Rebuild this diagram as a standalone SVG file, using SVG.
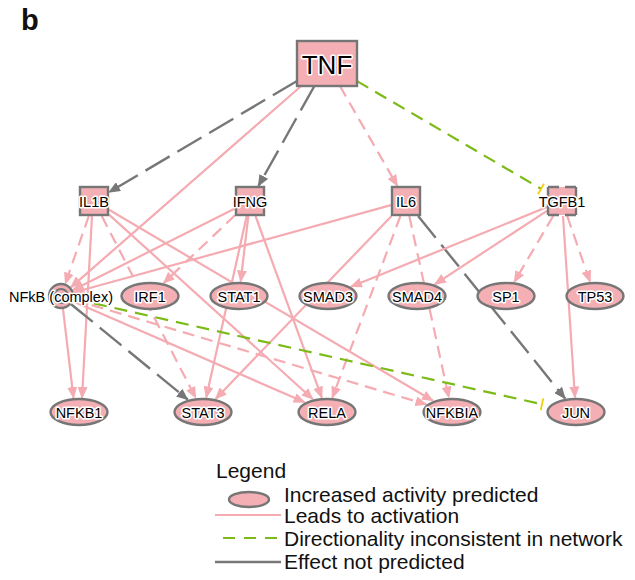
<svg xmlns="http://www.w3.org/2000/svg" width="635" height="580" viewBox="0 0 635 580">
<style>
.nd{fill:#F4AFB4;stroke:#767676;stroke-width:2.4}
.lbl{font-family:"Liberation Sans",Arial,sans-serif;font-size:14.5px;text-anchor:middle;fill:#000;stroke:#fff;stroke-width:3;stroke-linejoin:round;paint-order:stroke}
.pk{stroke:#F4ABB1;stroke-width:2.2;fill:none;marker-end:url(#ap)}
.ds{stroke-dasharray:12 7}
.gy{stroke:#777;stroke-width:2.4;fill:none;stroke-dasharray:28 9;marker-end:url(#ag)}
.gr{stroke:#7CBA18;stroke-width:2.2;fill:none;stroke-dasharray:13 8}
.tb{stroke:#F2CF0A;stroke-width:1.8}
.lg{font-family:"Liberation Sans",Arial,sans-serif;font-size:21px;fill:#111}
</style>
<defs>
<marker id="ap" viewBox="0 0 12 10" refX="11" refY="5" markerWidth="12" markerHeight="10" markerUnits="userSpaceOnUse" orient="auto"><path d="M0,0 L12,5 L0,10 z" fill="#F4ABB1"/></marker>
<marker id="ag" viewBox="0 0 12 10" refX="11" refY="5" markerWidth="12" markerHeight="10" markerUnits="userSpaceOnUse" orient="auto"><path d="M0,0 L12,5 L0,10 z" fill="#777"/></marker>
</defs>
<rect width="635" height="580" fill="#fff"/>
<text x="21" y="30" font-family="Liberation Sans, Arial, sans-serif" font-size="29" font-weight="bold" fill="#111">b</text>
<g id="connectors">
<line class="gy" x1="297" y1="81" x2="109" y2="192.2"/>
<line class="pk" x1="301.2" y1="86" x2="70.8" y2="287.4"/>
<line class="gy" x1="314.4" y1="86" x2="258.4" y2="186"/>
<line class="pk ds" x1="339.9" y1="86" x2="397.4" y2="186"/>
<line class="gr" x1="357" y1="81.1" x2="541" y2="188.8"/>
<line class="tb" x1="538" y1="194.2" x2="544" y2="183.8"/>
<line class="pk ds" x1="88.8" y1="216" x2="65.3" y2="283.7"/>
<line class="pk" x1="92" y1="216" x2="82" y2="398"/>
<line class="pk ds" x1="101.8" y1="216" x2="195.7" y2="397.9"/>
<line class="pk" x1="109" y1="214.6" x2="312.9" y2="399.2"/>
<line class="pk" x1="109" y1="209.8" x2="433" y2="400.8"/>
<line class="pk" x1="235" y1="208.5" x2="72.6" y2="290.2"/>
<line class="pk ds" x1="235" y1="215.3" x2="163.6" y2="283.1"/>
<line class="pk" x1="248.3" y1="216" x2="240.7" y2="281.5"/>
<line class="pk" x1="246.7" y1="216" x2="206.2" y2="397.6"/>
<line class="pk" x1="255.5" y1="216" x2="321.8" y2="397.7"/>
<line class="pk" x1="391" y1="205.1" x2="73.5" y2="292.5"/>
<line class="pk" x1="391.6" y1="216" x2="215.6" y2="398.9"/>
<line class="pk ds" x1="400.4" y1="216" x2="332.3" y2="397.7"/>
<line class="pk ds" x1="409.3" y1="216" x2="448.9" y2="397.6"/>
<line class="gy" x1="418.1" y1="216" x2="565.1" y2="398.5"/>
<line class="pk" x1="547" y1="207.1" x2="351" y2="286.7"/>
<line class="pk" x1="547" y1="210.8" x2="434.8" y2="284.3"/>
<line class="pk ds" x1="553.2" y1="216" x2="514.2" y2="282.1"/>
<line class="pk ds" x1="567.2" y1="216" x2="590" y2="281.7"/>
<line class="pk" x1="563" y1="216" x2="575" y2="397.5"/>
<line class="pk" x1="63" y1="308.8" x2="73.5" y2="398"/>
<line class="gy" x1="71.1" y1="304.2" x2="187.7" y2="399.5"/>
<line class="pk" x1="72.9" y1="301.2" x2="304.7" y2="402.3"/>
<line class="pk ds" x1="73.5" y1="299.7" x2="426.4" y2="404.4"/>
<line class="gr" x1="73.5" y1="298.8" x2="542" y2="404.3"/>
<line class="tb" x1="543.3" y1="398.4" x2="540.7" y2="410.2"/>
</g>
<g id="TNF"><rect class="nd" x="297" y="41" width="60" height="45"/><text class="lbl" x="327" y="73.5" style="font-size:26px">TNF</text></g>
<g id="IL1B"><rect class="nd" x="80" y="187" width="28" height="28"/><text class="lbl" x="94" y="207">IL1B</text></g>
<g id="IFNG"><rect class="nd" x="236" y="187" width="28" height="28"/><text class="lbl" x="250" y="207">IFNG</text></g>
<g id="IL6"><rect class="nd" x="392" y="187" width="28" height="28"/><text class="lbl" x="406" y="207">IL6</text></g>
<g id="TGFB1"><rect class="nd" x="548" y="187" width="28" height="28" stroke-dasharray="11 6 11 0"/><text class="lbl" x="562" y="207">TGFB1</text></g>
<g id="NFkB"><circle class="nd" cx="61" cy="296" r="12"/><circle cx="61" cy="296" r="7" fill="none" stroke="#767676" stroke-width="2"/><text class="lbl" x="61" y="302">NFkB (complex)</text></g>
<g id="IRF1"><ellipse class="nd" cx="150" cy="296" rx="28.5" ry="13"/><text class="lbl" x="150" y="301.5">IRF1</text></g>
<g id="STAT1"><ellipse class="nd" cx="239" cy="296" rx="28.5" ry="13"/><text class="lbl" x="239" y="301.5">STAT1</text></g>
<g id="SMAD3"><ellipse class="nd" cx="328" cy="296" rx="28.5" ry="13"/><text class="lbl" x="328" y="301.5">SMAD3</text></g>
<g id="SMAD4"><ellipse class="nd" cx="417" cy="296" rx="28.5" ry="13"/><text class="lbl" x="417" y="301.5">SMAD4</text></g>
<g id="SP1"><ellipse class="nd" cx="506" cy="296" rx="28.5" ry="13"/><text class="lbl" x="506" y="301.5">SP1</text></g>
<g id="TP53"><ellipse class="nd" cx="595" cy="296" rx="28.5" ry="13"/><text class="lbl" x="595" y="301.5">TP53</text></g>
<g id="NFKB1"><ellipse class="nd" cx="79" cy="412" rx="28.5" ry="13"/><text class="lbl" x="79" y="417.5">NFKB1</text></g>
<g id="STAT3"><ellipse class="nd" cx="203" cy="412" rx="28.5" ry="13"/><text class="lbl" x="203" y="417.5">STAT3</text></g>
<g id="RELA"><ellipse class="nd" cx="327" cy="412" rx="28.5" ry="13"/><text class="lbl" x="327" y="417.5">RELA</text></g>
<g id="NFKBIA"><ellipse class="nd" cx="452" cy="412" rx="28.5" ry="13"/><text class="lbl" x="452" y="417.5">NFKBIA</text></g>
<g id="JUN"><ellipse class="nd" cx="576" cy="412" rx="28.5" ry="13"/><text class="lbl" x="576" y="417.5">JUN</text></g>
<g id="legend">
<text class="lg" x="216" y="478">Legend</text>
<ellipse class="nd" cx="249" cy="499.5" rx="20" ry="7.5"/>
<text class="lg" x="284" y="502">Increased activity predicted</text>
<line x1="215" y1="515" x2="281" y2="515" stroke="#F4ABB1" stroke-width="2.2"/>
<text class="lg" x="284" y="523">Leads to activation</text>
<line x1="223" y1="538" x2="281" y2="538" stroke="#7CBA18" stroke-width="2.2" stroke-dasharray="12 9"/>
<text class="lg" x="284" y="546">Directionality inconsistent in network</text>
<line x1="215" y1="562" x2="281" y2="562" stroke="#777" stroke-width="2.4"/>
<text class="lg" x="284" y="569">Effect not predicted</text>
</g>
</svg>
